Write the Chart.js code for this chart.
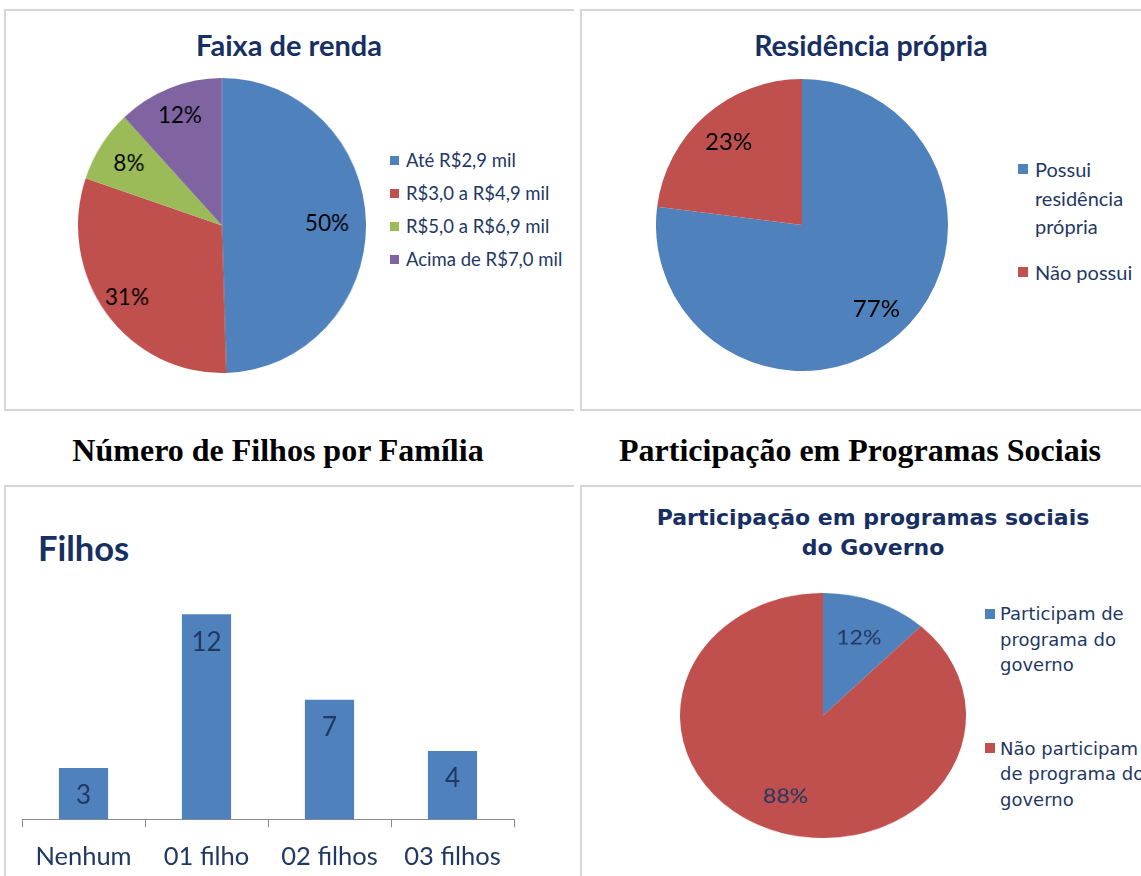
<!DOCTYPE html>
<html>
<head>
<meta charset="utf-8">
<script src="https://cdn.jsdelivr.net/npm/chart.js@4.4.1/dist/chart.umd.min.js"></script>
<style>
  body { margin: 0; width: 1141px; height: 876px; overflow: hidden; background: #fff; position: relative; font-family: Lato, sans-serif; }
  .panel { position: absolute; border: 2px solid #d6d6d6; border-right: none; box-sizing: border-box; }
  .heading { position: absolute; font-family: "Liberation Serif", serif; font-weight: bold; font-size: 32px; line-height: 36px; text-align: center; color: #000; }
  .title { position: absolute; font-weight: bold; color: #172f63; text-align: center; white-space: nowrap; }
  .legend { position: absolute; color: #1f3864; white-space: nowrap; }
  .legend .item { position: relative; }
  .legend .box { position: absolute; left: 0; }
  .wrap { position: absolute; transform-origin: 0 0; }
</style>
</head>
<body>
<div class="panel" style="left:4px; top:9px; width:570px; height:402px;"></div>
<div class="panel" style="left:580px; top:9px; width:570px; height:402px;"></div>
<div class="panel" style="left:4px; top:485px; width:570px; height:420px; border-bottom:none;"></div>
<div class="panel" style="left:580px; top:485px; width:570px; height:420px; border-bottom:none;"></div>

<div class="heading" style="left:0; width:556px; top:432px;">Número de Filhos por Família</div>
<div class="heading" style="left:580px; width:560px; top:432px;">Participação em Programas Sociais</div>

<div class="title" style="left:4px; width:570px; top:27px; font-size:29px; line-height:36px;">Faixa de renda</div>
<div class="title" style="left:580px; width:582px; top:27px; font-size:28.5px; line-height:36px;">Residência própria</div>
<div class="title" style="left:38px; top:528px; font-size:34.5px; line-height:40px; text-align:left;">Filhos</div>
<div class="title" style="left:580px; width:586px; top:503px; font-family:'DejaVu Sans', sans-serif; font-size:22px; line-height:30px;">Participação em programas sociais<br>do Governo</div>

<div class="wrap" id="w1" style="left:78px; top:78px; transform: scale(0.976, 1);"><canvas id="pieRenda" width="295" height="295"></canvas></div>
<div class="wrap" id="w2" style="left:656px; top:79px;"><canvas id="pieResidencia" width="292" height="292"></canvas></div>
<div class="wrap" id="w3" style="left:0px; top:580px;"><canvas id="barFilhos" width="540" height="296"></canvas></div>
<div class="wrap" id="w4" style="left:680px; top:593px; transform: scale(1, 0.857);"><canvas id="pieProgramas" width="286" height="286"></canvas></div>

<div class="legend" id="legRenda" style="left:390px; top:148px; font-size:18.5px;"></div>
<div class="legend" id="legResidencia" style="left:1018px; top:155px; font-size:20px;"></div>
<div class="legend" id="legProgramas" style="left:985px; top:601px; font-family:'DejaVu Sans', sans-serif; font-size:18px;"></div>

<script>
// data
const rendaLabels = ["Até R$2,9 mil", "R$3,0 a R$4,9 mil", "R$5,0 a R$6,9 mil", "Acima de R$7,0 mil"];
const rendaValues = [50, 31, 8, 12];

const residenciaLabels = [["Possui", "residência", "própria"], ["Não possui"]];
const residenciaValues = [77, 23];

const filhosLabels = ["Nenhum", "01 filho", "02 filhos", "03 filhos"];
const filhosValues = [3, 12, 7, 4];

const programasLabels = [["Participam de", "programa do", "governo"], ["Não participam", "de programa do", "governo"]];
const programasValues = [12, 88];

const BLUE = "#4f81bd", RED = "#c0504d", GREEN = "#9bbb59", PURPLE = "#8064a2";
const NAVY = "#1f3864";

Chart.defaults.animation = false;
Chart.defaults.font.family = "Lato, sans-serif";

// percent labels placed along each slice's middle angle
const sliceLabels = {
  id: "sliceLabels",
  afterDatasetsDraw(chart, args, opts) {
    const ctx = chart.ctx;
    const meta = chart.getDatasetMeta(0);
    const values = chart.data.datasets[0].data;
    ctx.save();
    ctx.font = opts.font;
    ctx.fillStyle = opts.color;
    ctx.textAlign = "center";
    ctx.textBaseline = "middle";
    meta.data.forEach((arc, i) => {
      const p = arc.getProps(["x", "y", "startAngle", "endAngle", "outerRadius"], true);
      const mid = (p.startAngle + p.endAngle) / 2;
      const r = p.outerRadius * opts.dist[i];
      ctx.fillText(values[i] + "%", p.x + Math.cos(mid) * r, p.y + Math.sin(mid) * r);
    });
    ctx.restore();
  }
};

// value inside top of each bar
const barLabels = {
  id: "barLabels",
  afterDatasetsDraw(chart) {
    const ctx = chart.ctx;
    const meta = chart.getDatasetMeta(0);
    ctx.save();
    ctx.font = "26px Lato, sans-serif";
    ctx.fillStyle = NAVY;
    ctx.textAlign = "center";
    ctx.textBaseline = "middle";
    meta.data.forEach((bar, i) => {
      ctx.fillText(chart.data.datasets[0].data[i], bar.x, bar.y + 28);
    });
    ctx.restore();
  }
};

function pie(id, labels, values, colors, labelOpts) {
  return new Chart(document.getElementById(id), {
    type: "pie",
    data: {
      labels: labels.map((l) => (Array.isArray(l) ? l.join(" ") : l)),
      datasets: [{ data: values, backgroundColor: colors, borderWidth: 0, hoverOffset: 0 }],
    },
    options: {
      responsive: false,
      plugins: { legend: { display: false }, tooltip: { enabled: false }, sliceLabels: labelOpts },
    },
    plugins: [sliceLabels],
  });
}

pie("pieRenda", rendaLabels, rendaValues, [BLUE, RED, GREEN, PURPLE],
  { font: "23px Lato, sans-serif", color: "#000", dist: [0.73, 0.82, 0.77, 0.8] });
pie("pieResidencia", residenciaLabels, residenciaValues, [BLUE, RED],
  { font: "24px Lato, sans-serif", color: "#000", dist: [0.77, 0.76] });
pie("pieProgramas", programasLabels, programasValues, [BLUE, RED],
  { font: "23px Lato, sans-serif", color: NAVY, dist: [0.68, 0.71] });

const barCanvas = document.getElementById("barFilhos");
barCanvas.height = 306;
new Chart(barCanvas, {
  type: "bar",
  data: {
    labels: filhosLabels,
    datasets: [{ data: filhosValues, backgroundColor: BLUE, barPercentage: 0.4, categoryPercentage: 1 }],
  },
  options: {
    responsive: false,
    layout: { padding: { left: 22, right: 26, top: 0, bottom: 0 } },
    plugins: { legend: { display: false }, tooltip: { enabled: false } },
    scales: {
      y: { display: false, min: 0, max: 14 },
      x: {
        border: { display: true, color: "#8c8c8c", width: 1 },
        grid: { display: true, drawOnChartArea: false, drawTicks: true, tickLength: 8, color: "#8c8c8c" },
        ticks: { color: NAVY, font: { size: 25.5 }, padding: 14 },
      },
    },
  },
  plugins: [barLabels],
});

// html legends
function legend(id, labels, colors, box, lineH, gap) {
  const el = document.getElementById(id);
  labels.forEach((lab, i) => {
    const lines = Array.isArray(lab) ? lab : [lab];
    const item = document.createElement("div");
    item.className = "item";
    item.style.paddingLeft = box.indent + "px";
    item.style.lineHeight = lineH + "px";
    item.style.marginBottom = gap + "px";
    item.innerHTML = lines.join("<br>");
    const sq = document.createElement("span");
    sq.className = "box";
    sq.style.width = box.size + "px";
    sq.style.height = box.size + "px";
    sq.style.top = (lineH - box.size) / 2 + "px";
    sq.style.background = colors[i];
    item.appendChild(sq);
    el.appendChild(item);
  });
}

legend("legRenda", rendaLabels, [BLUE, RED, GREEN, PURPLE], { size: 9, indent: 16 }, 24, 9);
legend("legResidencia", residenciaLabels, [BLUE, RED], { size: 10, indent: 17 }, 28.5, 17);
legend("legProgramas", programasLabels, [BLUE, RED], { size: 10, indent: 15 }, 25.5, 58);
</script>
</body>
</html>
